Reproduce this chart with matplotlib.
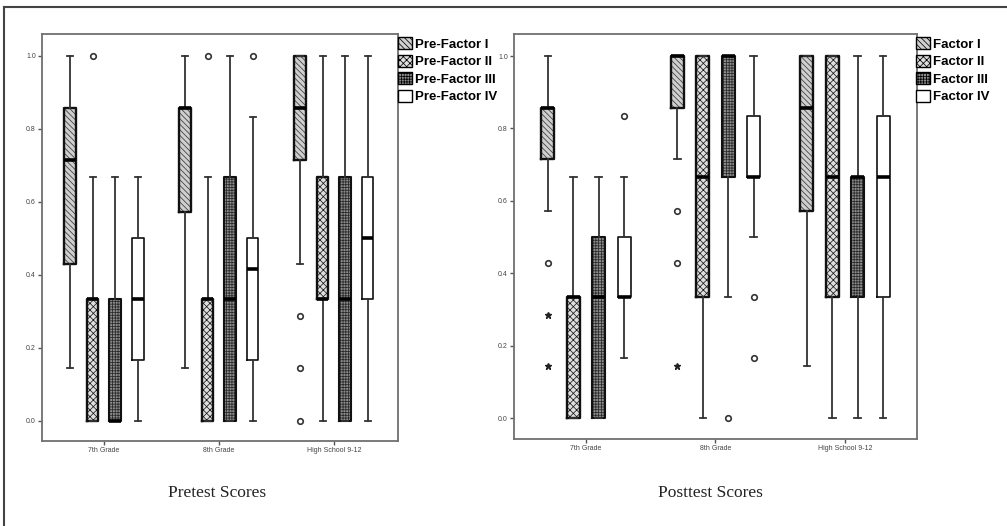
import numpy as np
import matplotlib
matplotlib.use("Agg")
import matplotlib.pyplot as plt
from matplotlib.patches import Patch
from matplotlib.lines import Line2D

# categories and series
grades = ["7th Grade", "8th Grade", "High School 9-12"]
pre_labels = ["Pre-Factor I", "Pre-Factor II", "Pre-Factor III", "Pre-Factor IV"]
post_labels = ["Factor I", "Factor II", "Factor III", "Factor IV"]

# pretest box stats (one value per grade)
pre_lo = [[1/7, 1/7, 3/7], [0, 0, 0], [0, 0, 0], [0, 0, 0]]
pre_q1 = [[3/7, 4/7, 5/7], [0, 0, 1/3], [0, 0, 0], [1/6, 1/6, 1/3]]
pre_med = [[5/7, 6/7, 6/7], [1/3, 1/3, 1/3], [0, 1/3, 1/3], [1/3, 5/12, 0.5]]
pre_q3 = [[6/7, 6/7, 1.0], [1/3, 1/3, 2/3], [1/3, 2/3, 2/3], [0.5, 0.5, 2/3]]
pre_hi = [[1, 1, 1], [2/3, 2/3, 1], [2/3, 1, 1], [2/3, 5/6, 1]]
pre_out = [[[], [], [2/7, 1/7, 0]], [[1], [1], []], [[], [], []], [[], [1], []]]
pre_ext = [[[], [], []], [[], [], []], [[], [], []], [[], [], []]]

# posttest box stats
post_lo = [[4/7, 5/7, 1/7], [0, 0, 0], [0, 1/3, 0], [1/6, 0.5, 0]]
post_q1 = [[5/7, 6/7, 4/7], [0, 1/3, 1/3], [0, 2/3, 1/3], [1/3, 2/3, 1/3]]
post_med = [[6/7, 1, 6/7], [1/3, 2/3, 2/3], [1/3, 1, 2/3], [1/3, 2/3, 2/3]]
post_q3 = [[6/7, 1, 1], [1/3, 1, 1], [0.5, 1, 2/3], [0.5, 5/6, 5/6]]
post_hi = [[1, 1, 1], [2/3, 1, 1], [2/3, 1, 1], [2/3, 1, 1]]
post_out = [[[3/7], [4/7, 3/7], []], [[], [], []], [[], [0], []], [[5/6], [1/3, 1/6], []]]
post_ext = [[[2/7, 1/7], [1/7], []], [[], [], []], [[], [], []], [[], [], []]]

# fill styles per factor
fills = ["#cfcfcf", "#dedede", "#8c8c8c", "white"]
hatches = ["\\\\\\\\\\\\", "xxxxx", "++++++", None]
hatch_cols = ["#3a3a3a", "#1e1e1e", "#2a2a2a", "white"]
offsets = [-0.294, -0.098, 0.098, 0.294]
box_lw = [1.7, 1.7, 1.5, 1.2]

plt.rcParams["hatch.linewidth"] = 0.55
plt.rcParams["font.family"] = ["Liberation Sans", "DejaVu Sans"]

fig = plt.figure(figsize=(10.07, 5.26), dpi=100)
ax1 = fig.add_axes([0.0417, 0.1616, 0.3535, 0.7738])
ax2 = fig.add_axes([0.5104, 0.1654, 0.4002, 0.7700])


def draw_panel(ax, lo, q1, med, q3, hi, out, ext, xlim, ylim):
    for f in range(4):
        stats = []
        for g in range(3):
            stats.append(dict(whislo=lo[f][g], q1=q1[f][g], med=med[f][g],
                              q3=q3[f][g], whishi=hi[f][g], fliers=out[f][g]))
        pos = [g + offsets[f] for g in range(3)]
        # fills with hatch
        ax.bxp(stats, positions=pos, widths=0.1, patch_artist=True,
               showfliers=False, showcaps=False, manage_ticks=False,
               boxprops=dict(facecolor=fills[f], edgecolor=hatch_cols[f],
                             linewidth=0, hatch=hatches[f]),
               whiskerprops=dict(visible=False),
               medianprops=dict(visible=False), zorder=2)
        # outlines, whiskers, medians, outliers
        ax.bxp(stats, positions=pos, widths=0.1, capwidths=0.05,
               manage_ticks=False,
               boxprops=dict(color="#111111", linewidth=box_lw[f]),
               whiskerprops=dict(color="#333333", linewidth=1.3),
               capprops=dict(color="#333333", linewidth=1.3),
               medianprops=dict(color="black", linewidth=2.6),
               flierprops=dict(marker="o", markersize=4, markerfacecolor="white",
                               markeredgecolor="#333333", markeredgewidth=1.2),
               zorder=3)
        for g in range(3):
            if ext[f][g]:
                ax.plot([g + offsets[f]] * len(ext[f][g]), ext[f][g], ls="none",
                        marker="*", markersize=5, color="#222222", zorder=4)
    ax.set_xlim(*xlim)
    ax.set_ylim(*ylim)
    ax.set_xticks(range(3))
    ax.set_xticklabels(grades)
    ax.set_yticks(np.arange(0, 1.01, 0.2))
    ax.set_yticklabels(["%.1f" % v for v in np.arange(0, 1.01, 0.2)])
    ax.tick_params(axis="both", direction="out", length=3, width=1,
                   color="#555555", labelsize=5, labelcolor="#444444", pad=1.5)
    for s in ax.spines.values():
        s.set_color("#707070")
        s.set_linewidth(1.3)


draw_panel(ax1, pre_lo, pre_q1, pre_med, pre_q3, pre_hi, pre_out, pre_ext,
           (-0.539, 2.557), (-0.056, 1.06))
draw_panel(ax2, post_lo, post_q1, post_med, post_q3, post_hi, post_out, post_ext,
           (-0.556, 2.556), (-0.058, 1.061))

# legends
for labels, x in [(pre_labels, 398 / 1007), (post_labels, 916 / 1007)]:
    handles = [Patch(facecolor=fills[i], edgecolor="black", hatch=hatches[i], linewidth=1.0)
               for i in range(4)]
    fig.legend(handles, labels, loc="upper left", bbox_to_anchor=(x, 1 - 37 / 526),
               frameon=False, borderpad=0, borderaxespad=0, handlelength=1.05,
               handleheight=1.05, handletextpad=0.25, labelspacing=0.3,
               prop=dict(family="Liberation Sans", weight="bold", size=9.5))

# panel captions
fig.text(217 / 1007, 1 - 493 / 526, "Pretest Scores", ha="center", va="center",
         family="Liberation Serif", fontsize=12.5, color="#222222")
fig.text(710 / 1007, 1 - 493 / 526, "Posttest Scores", ha="center", va="center",
         family="Liberation Serif", fontsize=12.5, color="#222222")

# outer frame (top and left)
fig.add_artist(Line2D([4 / 1007, 1], [1 - 7 / 526, 1 - 7 / 526], transform=fig.transFigure,
                      color="#444444", linewidth=1.5))
fig.add_artist(Line2D([4 / 1007, 4 / 1007], [0, 1 - 7 / 526], transform=fig.transFigure,
                      color="#444444", linewidth=1.5))

fig.savefig("out.png", dpi=100)
